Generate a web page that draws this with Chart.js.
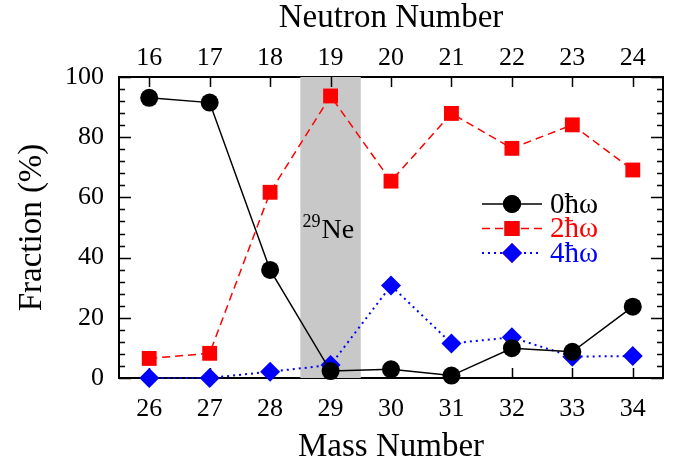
<!DOCTYPE html>
<html>
<head>
<meta charset="utf-8">
<script src="https://cdn.jsdelivr.net/npm/chart.js@4.4.1/dist/chart.umd.min.js"></script>
<style>
  html, body { margin: 0; padding: 0; background: #fff; }
  #wrap { width: 683px; height: 467px; }
</style>
</head>
<body>
<div id="wrap"><canvas id="chart"></canvas></div>
<script>
// data
const massNumbers = [26, 27, 28, 29, 30, 31, 32, 33, 34];
const neutronNumbers = [16, 17, 18, 19, 20, 21, 22, 23, 24];
const yTicks = [0, 20, 40, 60, 80, 100];
const frac0 = [93.1, 91.5, 35.9, 2.3, 2.9, 0.8, 9.9, 8.7, 23.7];
const frac2 = [6.5, 8.2, 61.7, 93.7, 65.4, 87.9, 76.3, 84.1, 69.1];
const frac4 = [0, 0, 2.1, 4.3, 30.7, 11.5, 13.5, 7.1, 7.3];
const band = [28.5, 29.5];
const seriesLabels = ['0\u0127\u03C9', '2\u0127\u03C9', '4\u0127\u03C9'];

const FONT = "'Liberation Serif', 'DejaVu Serif', serif";

function pts(vals) {
    return vals.map((v, i) => ({ x: massNumbers[i], y: v }));
}

// grey band behind the data, inward ticks, legend and label
const decor = {
    id: 'decor',
    beforeDatasetsDraw(chart) {
        const ctx = chart.ctx;
        const a = chart.chartArea;
        const x = chart.scales.x, y = chart.scales.y;
        ctx.save();
        ctx.fillStyle = '#c8c8c8';
        const x0 = x.getPixelForValue(band[0]), x1 = x.getPixelForValue(band[1]);
        ctx.fillRect(x0, a.top, x1 - x0, a.bottom - a.top);

        ctx.strokeStyle = '#000';
        ctx.lineWidth = 1.5;
        ctx.beginPath();
        massNumbers.forEach(v => {
            const px = Math.round(x.getPixelForValue(v)) + 0.5;
            ctx.moveTo(px, a.bottom); ctx.lineTo(px, a.bottom - 10);
            ctx.moveTo(px, a.top); ctx.lineTo(px, a.top + 10);
        });
        for (let v = 0; v <= 100; v += 4) {
            const py = Math.round(y.getPixelForValue(v)) + 0.5;
            const len = v % 20 === 0 ? 12 : 6;
            ctx.moveTo(a.left, py); ctx.lineTo(a.left + len, py);
            ctx.moveTo(a.right, py); ctx.lineTo(a.right - len, py);
        }
        ctx.stroke();

        // 29Ne label
        ctx.fillStyle = '#000';
        ctx.textBaseline = 'alphabetic';
        ctx.textAlign = 'left';
        const lx = x.getPixelForValue(29) - 28;
        const ly = y.getPixelForValue(46.5);
        ctx.font = '18px ' + FONT;
        ctx.fillText('29', lx, ly - 11);
        ctx.font = '28px ' + FONT;
        ctx.fillText('Ne', lx + 19, ly);
        ctx.restore();
    },
    afterDraw(chart) {
        const ctx = chart.ctx;
        const a = chart.chartArea;
        ctx.save();
        chart.data.datasets.forEach((ds, i) => {
            const yy = a.top + 127 + i * 24.5;
            const xl = a.left + 363, xr = a.left + 423, xm = a.left + 393;
            ctx.strokeStyle = ds.borderColor;
            ctx.lineWidth = ds.borderWidth;
            ctx.setLineDash(ds.borderDash || []);
            ctx.beginPath();
            ctx.moveTo(xl, yy); ctx.lineTo(xr, yy);
            ctx.stroke();
            ctx.setLineDash([]);
            Chart.helpers.drawPoint(ctx, {
                pointStyle: ds.pointStyle, radius: ds.pointRadius, borderWidth: 0, rotation: 0
            }, xm, yy);
            ctx.fillStyle = ds.backgroundColor;
            ctx.fill();
            ctx.font = '29px ' + FONT;
            ctx.textAlign = 'left';
            ctx.textBaseline = 'middle';
            ctx.fillText(ds.label, a.left + 431, yy + 1);
        });
        ctx.restore();
    }
};

const tickFont = { family: FONT, size: 26 };
const titleFont = { family: FONT, size: 33, lineHeight: 1 };
const frame = { display: true, color: '#000', width: 2 };

new Chart(document.getElementById('chart').getContext('2d'), {
    type: 'line',
    data: {
        datasets: [
            {
                label: seriesLabels[0], data: pts(frac0),
                borderColor: '#000', backgroundColor: '#000', borderWidth: 1.5,
                pointStyle: 'circle', pointRadius: 9, pointBorderWidth: 0, clip: false
            },
            {
                label: seriesLabels[1], data: pts(frac2),
                borderColor: '#ff0000', backgroundColor: '#ff0000', borderWidth: 1.5,
                borderDash: [8, 5],
                pointStyle: 'rect', pointRadius: 10.5, pointBorderWidth: 0, clip: false
            },
            {
                label: seriesLabels[2], data: pts(frac4),
                borderColor: '#0000ff', backgroundColor: '#0000ff', borderWidth: 2,
                borderDash: [2, 4],
                pointStyle: 'rectRot', pointRadius: 10, pointBorderWidth: 0, clip: false
            }
        ]
    },
    options: {
        responsive: true,
        maintainAspectRatio: false,
        animation: false,
        layout: { padding: 0 },
        plugins: { legend: { display: false }, tooltip: { enabled: false } },
        scales: {
            x: {
                type: 'linear', position: 'bottom', min: 25.5, max: 34.5,
                afterBuildTicks: s => { s.ticks = massNumbers.map(v => ({ value: v })); },
                afterFit: s => { s.height = 89; },
                grid: { display: false, drawTicks: false },
                border: frame,
                ticks: { font: tickFont, color: '#000', padding: 16, maxRotation: 0 },
                title: { display: true, text: 'Mass Number', font: titleFont, color: '#000', padding: { top: 0, bottom: 3 } }
            },
            x2: {
                type: 'linear', position: 'top', min: 15.5, max: 24.5,
                afterBuildTicks: s => { s.ticks = neutronNumbers.map(v => ({ value: v })); },
                afterFit: s => { s.height = 77; },
                grid: { display: false, drawTicks: false },
                border: frame,
                ticks: { font: tickFont, color: '#000', padding: 3, maxRotation: 0 },
                title: { display: true, text: 'Neutron Number', font: titleFont, color: '#000', padding: { top: 2, bottom: 0 } }
            },
            y: {
                type: 'linear', position: 'left', min: 0, max: 100,
                afterBuildTicks: s => { s.ticks = yTicks.map(v => ({ value: v })); },
                afterFit: s => { s.width = 119; },
                grid: { display: false, drawTicks: false },
                border: frame,
                ticks: { font: tickFont, color: '#000', padding: 15 },
                title: { display: true, text: 'Fraction (%)', font: titleFont, color: '#000', padding: { top: 16, bottom: 0 } }
            },
            y2: {
                type: 'linear', position: 'right', min: 0, max: 100,
                afterFit: s => { s.width = 20; },
                grid: { display: false, drawTicks: false },
                border: frame,
                ticks: { display: false }
            }
        }
    },
    plugins: [decor]
});
</script>
</body>
</html>
